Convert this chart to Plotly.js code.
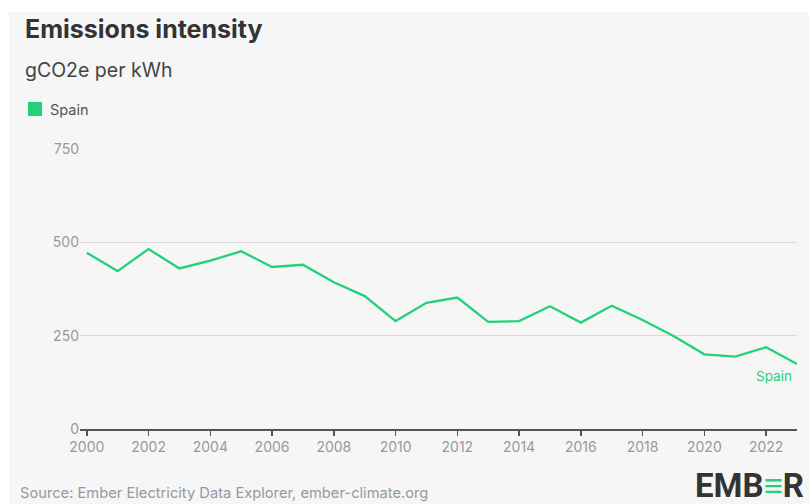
<!DOCTYPE html>
<html>
<head>
<meta charset="utf-8">
<script src="https://cdn.plot.ly/plotly-3.0.1.min.js"></script>
<style>
html,body{margin:0;padding:0;background:#ffffff;width:809px;height:504px;overflow:hidden;}
#chart{position:absolute;left:9px;top:12px;width:800px;height:492px;}
</style>
</head>
<body>
<div id="chart"></div>
<script>
const years = [2000,2001,2002,2003,2004,2005,2006,2007,2008,2009,2010,2011,2012,2013,2014,2015,2016,2017,2018,2019,2020,2021,2022,2023];
const spain = [472,423,482,430,451,476,434,440,393,356,289,338,352,287,289,329,285,330,292,249,200,194,219,174];
const seriesName = "Spain";
const xTicks = [2000,2002,2004,2006,2008,2010,2012,2014,2016,2018,2020,2022];
const yTicks = [0,250,500,750];

const green = "#22d17a";
const font = "Inter, 'Noto Sans', sans-serif";

const trace = {
  x: years, y: spain, type: "scatter", mode: "lines", name: seriesName,
  line: {color: green, width: 2.3}, hoverinfo: "skip", showlegend: false
};

const layout = {
  width: 800, height: 492,
  paper_bgcolor: "#f6f6f6", plot_bgcolor: "#f6f6f6",
  margin: {l: 71, r: 12, t: 137, b: 75},
  font: {family: font, color: "#999999", size: 13},
  xaxis: {
    range: [1999.78, 2023], tickmode: "array", tickvals: xTicks, ticktext: xTicks.map(String),
    showgrid: false, zeroline: false, showline: true, linecolor: "#555555", linewidth: 1.5,
    ticks: "outside", ticklen: 5, tickcolor: "#555555", tickwidth: 1.5,
    tickfont: {family: font, size: 14, color: "#999999"}, fixedrange: true
  },
  yaxis: {
    range: [0, 750], tickmode: "array", tickvals: yTicks, ticktext: yTicks.map(String),
    showgrid: true, gridcolor: "#d9d9d9", gridwidth: 1.5, zeroline: false, showline: false,
    ticks: "", tickfont: {family: font, size: 14, color: "#999999"}, fixedrange: true
  },
  shapes: [
    {type: "rect", xref: "paper", yref: "paper", x0: -0.0725, x1: -0.053, y0: 1.118, y1: 1.168,
     fillcolor: green, line: {width: 0}}
  ],
  annotations: [
    {xref: "paper", yref: "paper", x: -0.0795, y: 1.0, yshift: 120, xanchor: "left", yanchor: "middle",
     text: "<b>Emissions intensity</b>", showarrow: false, font: {family: font, size: 25, color: "#333333"}},
    {xref: "paper", yref: "paper", x: -0.0795, y: 1.0, yshift: 79, xanchor: "left", yanchor: "middle",
     text: "gCO2e per kWh", showarrow: false, font: {family: font, size: 19.5, color: "#444444"}},
    {xref: "paper", yref: "paper", x: -0.0446, y: 1.0, yshift: 40, xanchor: "left", yanchor: "middle",
     text: seriesName, showarrow: false, font: {family: font, size: 14.5, color: "#555555"}},
    {xref: "x", yref: "y", x: years[years.length-1], y: spain[spain.length-1], xanchor: "right", yanchor: "middle",
     yshift: -12, xshift: -3, text: seriesName, showarrow: false, font: {family: font, size: 13.5, color: green}},
    {xref: "paper", yref: "paper", x: -0.0865, y: 0, yshift: -64, xanchor: "left", yanchor: "middle",
     text: "Source: Ember Electricity Data Explorer, ember-climate.org", showarrow: false,
     font: {family: font, size: 14.7, color: "#999999"}},
    {xref: "paper", yref: "paper", x: 1.013, y: 0, yshift: -56, xanchor: "right", yanchor: "middle",
     text: "<b>EMB<span style='color:" + green + "'>≡</span>R</b>", showarrow: false,
     font: {family: "Roboto, sans-serif", size: 33, color: "#333333"}}
  ]
};

Plotly.newPlot("chart", [trace], layout, {displayModeBar: false, staticPlot: true});
</script>
</body>
</html>
